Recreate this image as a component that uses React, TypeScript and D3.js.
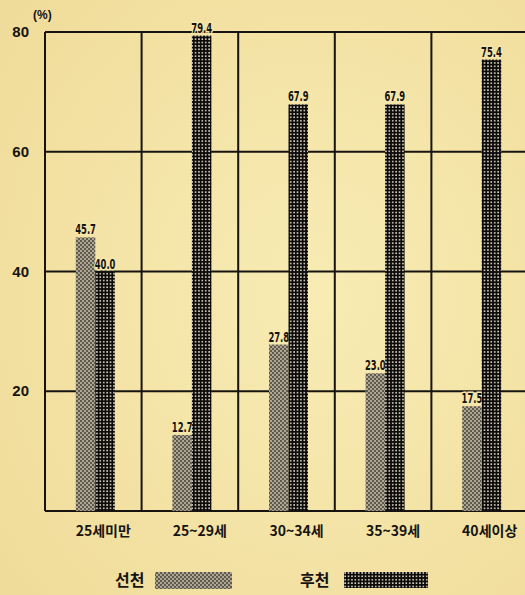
import React from "react";
import * as d3 from "d3";

// Age groups and the share (%) for each onset type
const categories = ["25세미만", "25~29세", "30~34세", "35~39세", "40세이상"];
const congenital = [45.7, 12.7, 27.8, 23.0, 17.5]; // 선천
const acquired = [40.0, 79.4, 67.9, 67.9, 75.4]; // 후천
const yTicks = [20, 40, 60, 80];
const seriesNames = ["선천", "후천"];

const W = 525;
const H = 595;
const plot = { left: 45, right: 528, top: 32, bottom: 511 };

const bg = "#f5e8ad";
const ink = "#161310";
const numFont = "'DejaVu Sans', sans-serif";
const korFont = "'Noto Sans CJK KR', sans-serif";

export default function App() {
  const x = d3
    .scaleBand<string>()
    .domain(categories)
    .range([plot.left, plot.right])
    .paddingInner(0)
    .paddingOuter(0);
  const y = d3.scaleLinear().domain([0, 80]).range([plot.bottom, plot.top]);
  const barW = 19.5;

  const rows = categories.map((c, i) => ({
    c,
    vals: [congenital[i], acquired[i]],
  }));

  return (
    <svg
      width={W}
      height={H}
      viewBox={`0 0 ${W} ${H}`}
      style={{ position: "absolute", left: 0, top: 0, display: "block" }}
    >
      <defs>
        <pattern id="patA" width="4" height="4" patternUnits="userSpaceOnUse">
          <rect width="4" height="4" fill="#aea690" />
          <rect x="0" y="0" width="2" height="2" fill="#5e5a50" />
          <rect x="2" y="2" width="2" height="2" fill="#5e5a50" />
        </pattern>
        <pattern id="patB" width="3.4" height="3.4" patternUnits="userSpaceOnUse">
          <rect width="3.4" height="3.4" fill="#0d0b0a" />
          <rect x="1" y="1" width="1.5" height="1.5" fill="#f2ecd8" />
        </pattern>
        <radialGradient id="paper" cx="60%" cy="50%" r="75%">
          <stop offset="0%" stopColor="#f8ecb4" />
          <stop offset="100%" stopColor="#f0dc9a" />
        </radialGradient>
      </defs>

      <rect width={W} height={H} fill="url(#paper)" />

      {/* horizontal grid lines */}
      {[0, ...yTicks].map((t) => (
        <line
          key={"h" + t}
          x1={plot.left}
          x2={W}
          y1={y(t)}
          y2={y(t)}
          stroke={ink}
          strokeWidth={2}
        />
      ))}
      {/* vertical separators */}
      {categories.map((c) => (
        <line
          key={"v" + c}
          x1={x(c)!}
          x2={x(c)!}
          y1={plot.top}
          y2={plot.bottom}
          stroke={ink}
          strokeWidth={2}
        />
      ))}

      {/* y tick labels */}
      {yTicks.map((t) => (
        <text
          key={"t" + t}
          x={29}
          y={y(t) + 5}
          textAnchor="end"
          fontFamily="'Liberation Sans', sans-serif"
          fontWeight="bold"
          fontSize={15}
          fill={ink}
        >
          {t}
        </text>
      ))}
      <text
        x={33}
        y={19}
        fontFamily="'Liberation Sans', sans-serif"
        fontWeight="bold"
        fontSize={12}
        fill={ink}
      >
        (%)
      </text>

      {/* bars */}
      {rows.map((r) => {
        const cx = x(r.c)! + x.bandwidth() / 2 + 2;
        return (
          <g key={r.c}>
            {r.vals.map((v, k) => {
              const bx = k === 0 ? cx - barW : cx;
              return (
                <g key={k}>
                  <rect
                    x={bx}
                    y={y(v)}
                    width={barW}
                    height={plot.bottom - y(v)}
                    fill={k === 0 ? "url(#patA)" : "url(#patB)"}
                  />
                  <text
                    transform={`translate(${bx + barW / 2},${y(v) - 3}) scale(0.58,1)`}
                    textAnchor="middle"
                    fontFamily={numFont}
                    fontWeight="bold"
                    fontSize={14.5}
                    fill={ink}
                    stroke={bg}
                    strokeWidth={3}
                    paintOrder="stroke"
                  >
                    {v.toFixed(1)}
                  </text>
                </g>
              );
            })}
            <text
              x={x(r.c)! + x.bandwidth() / 2 + 10}
              y={536}
              textAnchor="middle"
              fontFamily={korFont}
              fontWeight="bold"
              fontSize={14}
              fill={ink}
            >
              {r.c}
            </text>
          </g>
        );
      })}

      {/* legend */}
      <text x={115} y={586} fontFamily={korFont} fontWeight="bold" fontSize={16} fill={ink}>
        {seriesNames[0]}
      </text>
      <rect x={155} y={572} width={77} height={17} fill="url(#patA)" />
      <text x={300} y={586} fontFamily={korFont} fontWeight="bold" fontSize={16} fill={ink}>
        {seriesNames[1]}
      </text>
      <rect x={344} y={572} width={84} height={16} fill="url(#patB)" />
    </svg>
  );
}
